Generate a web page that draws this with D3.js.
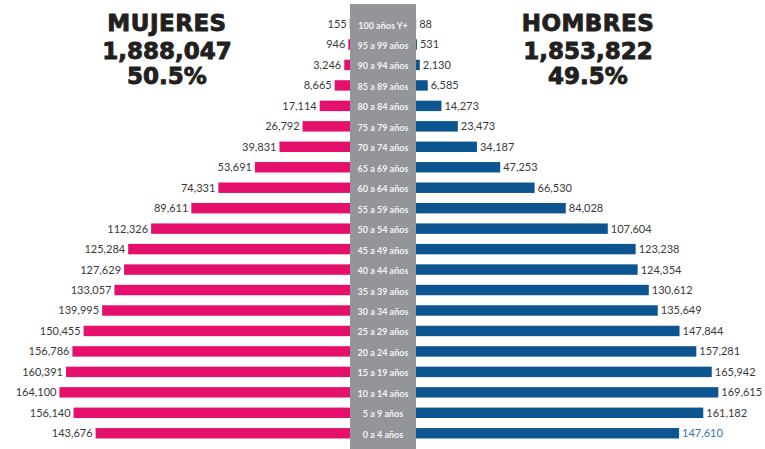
<!DOCTYPE html>
<html>
<head>
<meta charset="utf-8">
<script src="https://cdn.jsdelivr.net/npm/d3@7"></script>
<style>
  body { margin: 0; background: #fff; }
  svg { display: block; }
</style>
</head>
<body>
<div id="chart"></div>
<script>
const ages = [
  "100 años Y+", "95 a 99 años", "90 a 94 años", "85 a 89 años", "80 a 84 años",
  "75 a 79 años", "70 a 74 años", "65 a 69 años", "60 a 64 años", "55 a 59 años",
  "50 a 54 años", "45 a 49 años", "40 a 44 años", "35 a 39 años", "30 a 34 años",
  "25 a 29 años", "20 a 24 años", "15 a 19 años", "10 a 14 años", "5 a 9 años", "0 a 4 años"
];
const mujeres = [
  155, 946, 3246, 8665, 17114, 26792, 39831, 53691, 74331, 89611,
  112326, 125284, 127629, 133057, 139995, 150455, 156786, 160391, 164100, 156140, 143676
];
const hombres = [
  88, 531, 2130, 6585, 14273, 23473, 34187, 47253, 66530, 84028,
  107604, 123238, 124354, 130612, 135649, 147844, 157281, 165942, 169615, 161182, 147610
];
const totals = [
  { name: "MUJERES", total: "1,888,047", pct: "50.5%", cx: 167 },
  { name: "HOMBRES", total: "1,853,822", pct: "49.5%", cx: 588 }
];

const W = 765, H = 449;
const mid0 = 350, mid1 = 416;
const pink = "#e5106b", blue = "#0c5590", band = "#939598";

const svg = d3.select("#chart").append("svg")
  .attr("width", W).attr("height", H);

const data = ages.map((a, i) => ({ age: a, f: mujeres[i], m: hombres[i] }));

const y = d3.scaleBand()
  .domain(ages)
  .range([13.8, 443.5])
  .paddingInner(0.49)
  .paddingOuter(0.245);

const xF = d3.scaleLinear().domain([0, 170000]).range([mid0, mid0 - 301]);
const xM = d3.scaleLinear().domain([0, 170000]).range([mid1, mid1 + 303]);

// center band
svg.append("rect")
  .attr("x", mid0).attr("y", 4)
  .attr("width", mid1 - mid0).attr("height", H - 4)
  .attr("fill", band);

// female bars
svg.selectAll(".bar-f")
  .data(data)
  .join("rect")
  .attr("class", "bar-f")
  .attr("x", d => xF(d.f))
  .attr("y", d => y(d.age))
  .attr("width", d => xF(0) - xF(d.f))
  .attr("height", y.bandwidth())
  .attr("fill", pink);

// male bars
svg.selectAll(".bar-m")
  .data(data)
  .join("rect")
  .attr("class", "bar-m")
  .attr("x", xM(0))
  .attr("y", d => y(d.age))
  .attr("width", d => xM(d.m) - xM(0))
  .attr("height", y.bandwidth())
  .attr("fill", blue);

const fmt = d3.format(",");

// value labels
svg.selectAll(".lab-f")
  .data(data)
  .join("text")
  .attr("class", "lab-f")
  .attr("x", d => xF(d.f) - 3)
  .attr("y", d => y(d.age) + y.bandwidth() / 2 + 4)
  .attr("text-anchor", "end")
  .style("font-family", "Lato, sans-serif")
  .style("font-size", "11px")
  .attr("fill", "#3a3a3a")
  .text(d => fmt(d.f));

svg.selectAll(".lab-m")
  .data(data)
  .join("text")
  .attr("class", "lab-m")
  .attr("x", d => xM(d.m) + 3)
  .attr("y", d => y(d.age) + y.bandwidth() / 2 + 4)
  .attr("text-anchor", "start")
  .style("font-family", "Lato, sans-serif")
  .style("font-size", "11px")
  .attr("fill", (d, i) => i === data.length - 1 ? "#3474b3" : "#3a3a3a")
  .text(d => fmt(d.m));

// age labels
svg.selectAll(".age")
  .data(data)
  .join("text")
  .attr("class", "age")
  .attr("x", (mid0 + mid1) / 2)
  .attr("y", d => y(d.age) + y.bandwidth() / 2 + 4.5)
  .attr("text-anchor", "middle")
  .style("font-family", "Lato, sans-serif")
  .style("font-weight", "700")
  .style("font-size", "9px")
  .attr("fill", "#f4f4f4")
  .text(d => d.age);

// totals
const tg = svg.selectAll(".tot")
  .data(totals)
  .join("g")
  .attr("class", "tot")
  .attr("transform", d => `translate(${d.cx},0)`)
  .style("font-family", "'DejaVu Sans', sans-serif")
  .style("font-weight", "700")
  .style("font-size", "23px")
  .attr("fill", "#231f20")
  .attr("stroke", "#231f20")
  .attr("stroke-width", 0.9)
  .attr("text-anchor", "middle");

tg.append("text")
  .attr("y", 31)
  .style("letter-spacing", "0.5px")
  .text(d => d.name);

tg.append("text")
  .attr("y", 59)
  .text(d => d.total);

tg.append("text")
  .attr("y", 83.5)
  .text(d => d.pct);
</script>
</body>
</html>
